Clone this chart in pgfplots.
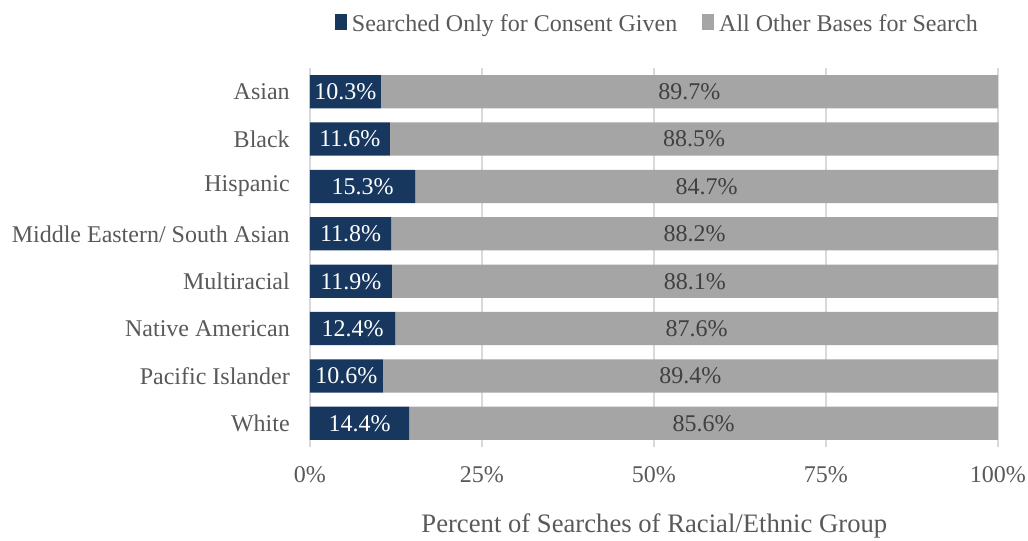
\documentclass[border=0pt]{standalone}
\usepackage{pgfplots}
\usepackage{pgfplotstable}
\pgfplotsset{compat=1.18}
\usepackage{fontspec}
\setmainfont{Liberation Serif}
\definecolor{navy}{HTML}{17375E}
\definecolor{barGray}{HTML}{A5A5A5}
\definecolor{txtGray}{HTML}{595959}
\definecolor{lblGray}{HTML}{404040}
\definecolor{gridGray}{HTML}{D9D9D9}
\pgfplotstableread{
idx consent other
0 10.3 89.7
1 11.6 88.5
2 15.3 84.7
3 11.8 88.2
4 11.9 88.1
5 12.4 87.6
6 10.6 89.4
7 14.4 85.6
}\data
\begin{document}
\fontsize{18}{22}\selectfont
\begin{tikzpicture}[font=\fontsize{18}{22}\selectfont]
\path[use as bounding box] (-232.5pt,-70.5pt) rectangle (538.5pt,335.25pt);
\begin{axis}[
  at={(0,0)}, anchor=south west,
  scale only axis,
  width=516.5pt, height=284.25pt,
  xbar stacked,
  bar width=0.7,
  xmin=0, xmax=100.1,
  ymin=-0.5, ymax=7.5,
  y dir=reverse,
  ytick={0,...,7},
  yticklabels={Asian,Black,Hispanic,Middle Eastern/ South Asian,Multiracial,Native American,Pacific Islander,White},
  xtick={0,25,50,75,100},
  xticklabels={0\%,25\%,50\%,75\%,100\%},
  major tick length=0pt,
  axis line style={draw=none},
  xmajorgrids,
  grid style={color=gridGray, line width=1pt},
  /pgf/number format/assume math mode=true,
  tick label style={text=txtGray},
  yticklabel style={anchor=east, inner sep=0pt, xshift=-15pt},
  xticklabel style={anchor=base, inner sep=0pt, yshift=-26.25pt},
  xlabel={Percent of Searches of Racial/Ethnic Group},
  xlabel style={at={(axis description cs:0.5,0)}, anchor=base, inner sep=0pt, yshift=-64pt, text=txtGray, font=\fontsize{20}{24}\selectfont},
  legend columns=2,
  legend style={draw=none, fill=none, at={(0.503,1.1135)}, anchor=center,
    text=txtGray,
    nodes={inner sep=0pt},
    /tikz/every even column/.append style={column sep=18.75pt},
    /tikz/every odd column/.append style={column sep=3.75pt}},
  legend image code/.code={\fill[#1] (0pt,-0.2em) rectangle (9pt,0.45em);},
  nodes near coords={\pgfmathprintnumber[fixed,fixed zerofill,precision=1]{\pgfplotspointmeta}\%},
  nodes near coords style={anchor=center},
]
\addplot[fill=navy, draw=none, point meta=explicit,
  nodes near coords style={text=white}]
  table[x=consent, y=idx, meta=consent] {\data};
\addlegendentry{Searched Only for Consent Given}
\addplot[fill=barGray, draw=none, point meta=explicit,
  nodes near coords style={text=lblGray}]
  table[x=other, y=idx, meta=other] {\data};
\addlegendentry{All Other Bases for Search}
\end{axis}
\end{tikzpicture}
\end{document}
